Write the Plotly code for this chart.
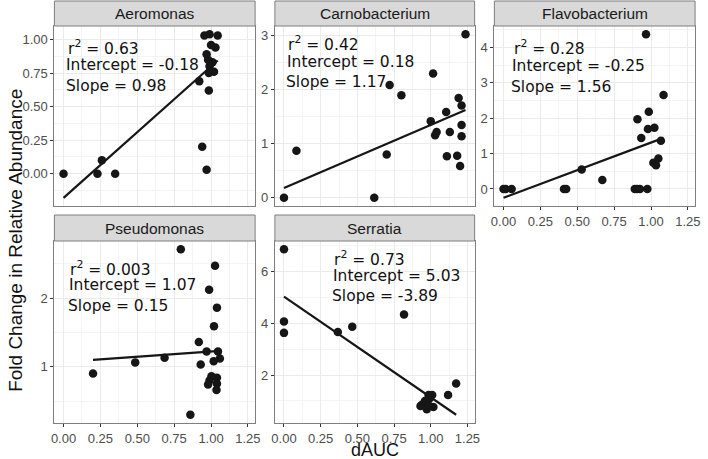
import plotly.graph_objects as go

# ---------------- data ----------------
panels = ["Aeromonas", "Carnobacterium", "Flavobacterium", "Pseudomonas", "Serratia"]

aero_x = [0.00, 0.23, 0.26, 0.35, 0.94, 0.97, 0.92, 0.985, 0.955, 0.99, 1.045, 1.00, 1.03, 0.97, 0.98, 1.01, 1.02, 0.985, 0.99]
aero_y = [0.00, 0.00, 0.10, 0.00, 0.20, 0.03, 0.69, 0.62, 1.03, 1.04, 1.03, 0.96, 0.94, 0.89, 0.85, 0.83, 0.76, 0.75, 0.80]

carno_x = [0.00, 0.085, 0.615, 0.70, 0.72, 0.80, 1.016, 1.00, 1.03, 1.04, 1.105, 1.13, 1.11, 1.18, 1.20, 1.21, 1.21, 1.19, 1.21, 1.237]
carno_y = [0.00, 0.87, 0.00, 0.80, 2.09, 1.90, 2.30, 1.42, 1.16, 1.22, 1.59, 1.22, 0.77, 0.78, 0.59, 1.35, 1.14, 1.85, 1.71, 3.03]

flavo_x = [0.00, 0.015, 0.055, 0.41, 0.425, 0.53, 0.67, 0.89, 0.905, 0.925, 0.975, 0.966, 0.908, 0.985, 0.934, 0.979, 1.023, 1.067, 1.085, 1.016, 1.05, 1.034]
flavo_y = [0.00, 0.00, 0.00, 0.00, 0.00, 0.55, 0.25, 0.00, 0.00, 0.00, 0.00, 4.37, 1.97, 2.18, 1.44, 1.69, 1.73, 1.36, 2.65, 0.74, 0.86, 0.67]

pseudo_x = [0.20, 0.486, 0.685, 0.795, 0.86, 0.917, 0.93, 0.97, 0.987, 1.027, 1.04, 1.02, 1.047, 1.06, 1.018, 0.98, 1.003, 1.04, 1.04, 1.037, 0.99]
pseudo_y = [0.90, 1.06, 1.13, 2.71, 0.30, 1.36, 1.03, 1.22, 2.12, 2.47, 1.86, 1.59, 1.22, 1.12, 1.08, 0.74, 0.86, 0.84, 0.75, 0.66, 0.80]

serr_x = [0.00, 0.00, 0.00, 0.367, 0.465, 0.818, 1.173, 1.118, 0.985, 1.01, 0.94, 0.973, 1.018, 0.96, 0.99, 0.93, 0.99]
serr_y = [6.86, 4.07, 3.63, 3.66, 3.87, 4.34, 1.67, 1.23, 1.23, 1.23, 0.85, 0.68, 0.77, 1.00, 1.08, 0.80, 0.80]

r2_labels = ["0.63", "0.42", "0.28", "0.003", "0.73"]
intercepts = [-0.18, 0.18, -0.25, 1.07, 5.03]
slopes = [0.98, 1.17, 1.56, 0.15, -3.89]

x_ticks = [0.0, 0.25, 0.5, 0.75, 1.0, 1.25]
y_ticks = [[0.0, 0.25, 0.5, 0.75, 1.0], [0, 1, 2, 3], [0, 1, 2, 3, 4], [1, 2], [2, 4, 6]]

xs_all = [aero_x, carno_x, flavo_x, pseudo_x, serr_x]
ys_all = [aero_y, carno_y, flavo_y, pseudo_y, serr_y]

# ---------------- layout geometry (pixels) ----------------
W, H = 708, 459
col_px = [(52, 255), (275, 477), (497, 700)]
row_px = [(26, 206), (241, 423)]
strip_px = [(1, 26), (215, 241)]
grid_pos = [(0, 0), (0, 1), (0, 2), (1, 0), (1, 1)]
# annotation left x, center y in pixels: (r2, intercept, slope)
ann_px = [
    [(64, 47), (62, 65), (62, 86)],
    [(286, 44), (285, 62), (284, 82)],
    [(515, 48), (513, 66), (512, 87)],
    [(66, 268), (65, 285), (64, 306)],
    [(333, 258), (332, 276), (331, 296)],
]
x_minor = [0.125]
y_minor = [0.125, 0.5, 0.5, 0.5, 1.0]
y_fmt = [".2f", "d", "d", "d", "d"]


def px2x(p):
    return p / W


def px2y(p):
    return 1 - p / H


def expand(lo, hi, f=0.05):
    r = hi - lo
    return [lo - f * r, hi + f * r]


allx = [v for xs in xs_all for v in xs]
x_range = expand(min(allx), max(allx))

fig = go.Figure()
shapes = []
annotations = []
layout_axes = {}
tick_font = dict(family="Liberation Sans", size=13, color="#4d4d4d")

for i, name in enumerate(panels):
    r, c = grid_pos[i]
    xs, ys = xs_all[i], ys_all[i]
    sfx = "" if i == 0 else str(i + 1)
    xa, ya = "x" + sfx, "y" + sfx
    fig.add_trace(go.Scatter(x=xs, y=ys, mode="markers", xaxis=xa, yaxis=ya,
                             marker=dict(size=8.5, color="#161616", line=dict(width=0)),
                             showlegend=False, hoverinfo="skip"))
    x0, x1 = min(xs), max(xs)
    lx = [x0, x1]
    ly = [intercepts[i] + slopes[i] * v for v in lx]
    fig.add_trace(go.Scatter(x=lx, y=ly, mode="lines", xaxis=xa, yaxis=ya,
                             line=dict(color="#161616", width=2.2),
                             showlegend=False, hoverinfo="skip"))
    y_range = expand(min(min(ys), min(ly)), max(max(ys), max(ly)))

    dx = [px2x(col_px[c][0]), px2x(col_px[c][1])]
    dy = [px2y(row_px[r][1]), px2y(row_px[r][0])]
    show_x = (r == 1) or (c == 2)
    layout_axes["xaxis" + sfx] = dict(
        domain=dx, anchor=ya, range=x_range, tickvals=x_ticks,
        ticktext=["%.2f" % v for v in x_ticks], showticklabels=show_x,
        ticks="outside" if show_x else "", ticklen=3, tickwidth=1, tickcolor="#333333",
        tickfont=tick_font,
        showgrid=True, gridcolor="#ebebeb", gridwidth=1,
        minor=dict(dtick=x_minor[0], tick0=0, showgrid=True, gridcolor="#f4f4f4", gridwidth=0.6),
        zeroline=False, showline=True, mirror=True, linecolor="#7f7f7f", linewidth=1,
    )
    layout_axes["yaxis" + sfx] = dict(
        domain=dy, anchor=xa, range=y_range, tickvals=y_ticks[i],
        tickformat=y_fmt[i],
        ticks="outside", ticklen=3, tickwidth=1, tickcolor="#333333",
        tickfont=tick_font,
        showgrid=True, gridcolor="#ebebeb", gridwidth=1,
        minor=dict(dtick=y_minor[i], tick0=0, showgrid=True, gridcolor="#f4f4f4", gridwidth=0.6),
        zeroline=False, showline=True, mirror=True, linecolor="#7f7f7f", linewidth=1,
    )
    # strip
    sy0, sy1 = strip_px[r]
    shapes.append(dict(type="rect", xref="paper", yref="paper",
                       x0=dx[0], x1=dx[1], y0=px2y(sy1), y1=px2y(sy0),
                       fillcolor="#d9d9d9", line=dict(color="#7f7f7f", width=1), layer="above"))
    annotations.append(dict(text=name, xref="paper", yref="paper",
                            x=(dx[0] + dx[1]) / 2, y=px2y((sy0 + sy1) / 2),
                            xanchor="center", yanchor="middle", showarrow=False,
                            font=dict(family="Liberation Sans", size=15.5, color="#1a1a1a")))
    texts = ["r<sup>2</sup> = " + r2_labels[i],
             "Intercept = %.2f" % intercepts[i],
             "Slope = %.2f" % slopes[i]]
    for t, (ax, ay) in zip(texts, ann_px[i]):
        annotations.append(dict(text=t, xref="paper", yref="paper", x=px2x(ax), y=px2y(ay),
                                xanchor="left", yanchor="middle", showarrow=False,
                                font=dict(family="DejaVu Sans", size=15.5, color="#111111")))

annotations.append(dict(text="dAUC", xref="paper", yref="paper", x=px2x(376), y=px2y(450),
                        xanchor="center", yanchor="middle", showarrow=False,
                        font=dict(family="Liberation Sans", size=18, color="#111111")))
annotations.append(dict(text="Fold Change in Relative Abundance", xref="paper", yref="paper",
                        x=px2x(12), y=px2y(240), textangle=-90,
                        xanchor="center", yanchor="middle", showarrow=False,
                        font=dict(family="Liberation Sans", size=19, color="#111111")))

fig.update_layout(width=W, height=H, margin=dict(l=0, r=0, t=0, b=0),
                  paper_bgcolor="white", plot_bgcolor="white",
                  shapes=shapes, annotations=annotations, showlegend=False, **layout_axes)

fig.write_html("out.html")
